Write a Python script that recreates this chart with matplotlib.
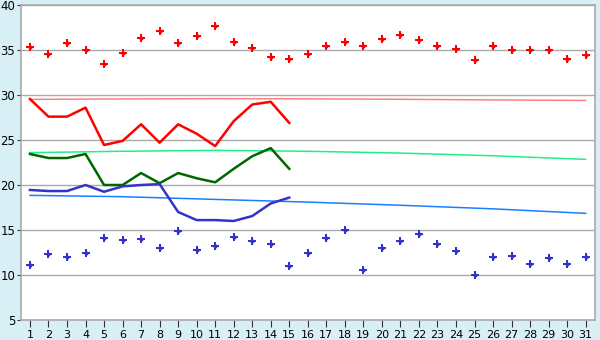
import matplotlib
matplotlib.use('Agg')
import matplotlib.pyplot as plt

# days of the month
days = list(range(1, 32))

# daily max / min (points)
max_pts = [35.3, 34.6, 35.8, 35.0, 33.5, 34.7, 36.3, 37.1, 35.8, 36.6,
           37.7, 35.85, 35.2, 34.2, 34.0, 34.6, 35.5, 35.85, 35.4, 36.2,
           36.7, 36.1, 35.5, 35.1, 33.85, 35.4, 35.0, 35.0, 35.0, 34.0, 34.4]
min_pts = [11.1, 12.3, 12.0, 12.4, 14.1, 13.85, 13.95, 12.95, 14.85, 12.75,
           13.2, 14.2, 13.75, 13.4, 11.0, 12.4, 14.1, 14.95, 10.5, 12.95,
           13.75, 14.5, 13.4, 12.65, 10.0, 12.0, 12.1, 11.2, 11.85, 11.2, 12.0]

# measured lines (first 15 days)
line_days = list(range(1, 16))
red_line = [29.56, 27.6, 27.6, 28.6, 24.45, 24.9, 26.75, 24.7, 26.75, 25.7,
            24.33, 27.1, 28.95, 29.25, 26.9]
green_line = [23.45, 23.0, 23.0, 23.45, 20.0, 20.0, 21.33, 20.2, 21.33, 20.75,
              20.3, 21.8, 23.2, 24.1, 21.8]
blue_line = [19.45, 19.33, 19.33, 20.0, 19.25, 19.85, 20.0, 20.1, 17.0, 16.1,
             16.1, 16.0, 16.55, 17.95, 18.6]

# long term reference lines
ref_days = [1, 6, 11, 16, 21, 26, 31]
ref_red = [29.52, 29.57, 29.6, 29.58, 29.53, 29.46, 29.4]
ref_green = [23.6, 23.75, 23.85, 23.75, 23.55, 23.25, 22.85]
ref_blue = [18.85, 18.7, 18.4, 18.1, 17.75, 17.35, 16.85]

bg = '#d9eff6'
fig = plt.figure(figsize=(6, 3.4), dpi=100, facecolor=bg)
ax = fig.add_axes([0.0345, 0.059, 0.957, 0.926])
ax.set_facecolor('white')

ax.plot(ref_days, ref_red, color='#ff8080', lw=1.1, zorder=2)
ax.plot(ref_days, ref_green, color='#22ee88', lw=1.1, zorder=2)
ax.plot(ref_days, ref_blue, color='#1a7fff', lw=1.1, zorder=2)

ax.plot(line_days, red_line, color='#ff0000', lw=1.8, zorder=3)
ax.plot(line_days, green_line, color='#006600', lw=1.8, zorder=3)
ax.plot(line_days, blue_line, color='#3333cc', lw=1.8, zorder=3)

# small plus + diamond to mimic the pixel markers
for pts, c in [(max_pts, '#ff0000'), (min_pts, '#3333cc')]:
    ax.plot(days, pts, ls='none', marker='P', ms=5.2, color=c, mew=0, zorder=4)
    ax.plot(days, pts, ls='none', marker='D', ms=2.8, color=c, mew=0, zorder=4)

ax.set_xlim(0.5, 31.5)
ax.set_ylim(5, 40)
ax.set_xticks(days)
ax.set_yticks(range(5, 41, 5))
ax.grid(axis='y', color='#aaaaaa', lw=1)
ax.set_axisbelow(True)
for s in ax.spines.values():
    s.set_color('#aaaaaa')
    s.set_linewidth(1.2)
ax.tick_params(axis='x', length=5, color='#333333', labelsize=8, pad=2)
ax.tick_params(axis='y', length=3, color='#333333', labelsize=8.5, pad=1)

fig.savefig('out.png', dpi=100, facecolor=bg)
